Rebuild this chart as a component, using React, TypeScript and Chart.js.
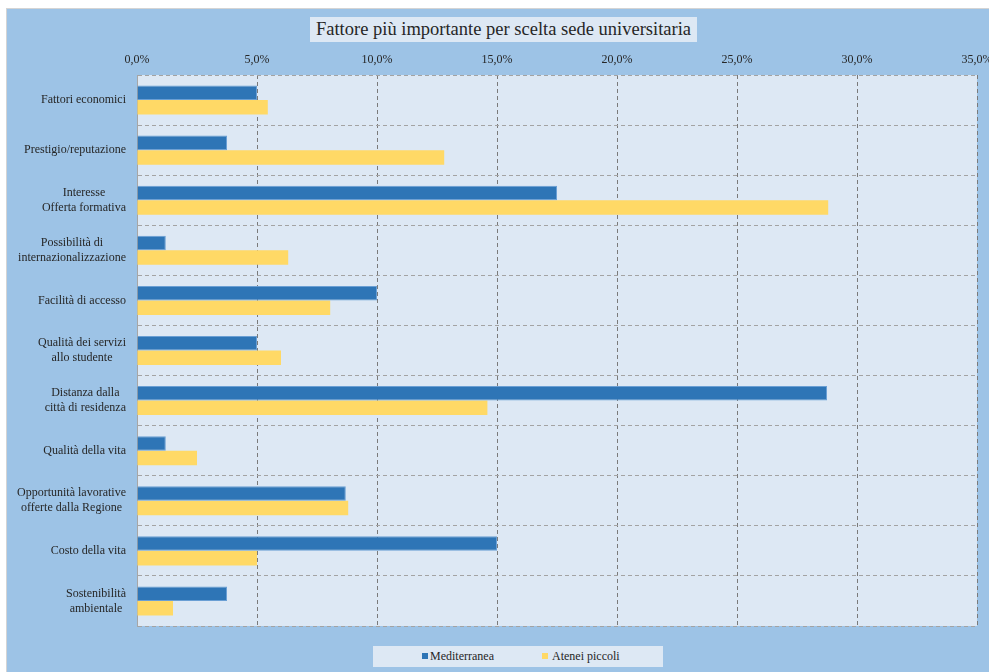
import React, { useEffect, useRef } from "react";
import { Chart, registerables } from "chart.js";

Chart.register(...registerables);

const categories: string[][] = [
  ["Fattori economici"],
  ["Prestigio/reputazione"],
  ["Interesse", "Offerta formativa"],
  ["Possibilità di", "internazionalizzazione"],
  ["Facilità di accesso"],
  ["Qualità dei servizi", "allo studente"],
  ["Distanza dalla", "città di residenza"],
  ["Qualità della vita"],
  ["Opportunità lavorative", "offerte dalla Regione"],
  ["Costo della vita"],
  ["Sostenibilità", "ambientale"],
];

const seriesNames = ["Mediterranea", "Atenei piccoli"];
const mediterranea = [5.0, 3.75, 17.5, 1.2, 10.0, 5.0, 28.75, 1.2, 8.7, 15.0, 3.75];
const ateneiPiccoli = [5.45, 12.8, 28.8, 6.3, 8.05, 6.0, 14.6, 2.5, 8.8, 5.0, 1.5];
const seriesColors = ["#2e75b6", "#ffd966"];

const xMin = 0;
const xMax = 35;
const xStep = 5;

const chartTitle = "Fattore più importante per scelta sede universitaria";

const FONT = '"Liberation Serif", "Times New Roman", serif';

const plotBg = {
  id: "plotBg",
  beforeDraw(chart: any) {
    const { ctx, chartArea } = chart;
    ctx.save();
    ctx.fillStyle = "#dde8f4";
    ctx.fillRect(chartArea.left, chartArea.top, chartArea.right - chartArea.left, chartArea.bottom - chartArea.top);
    ctx.restore();
  },
};

const centeredLabels = {
  id: "centeredLabels",
  afterDraw(chart: any) {
    const { ctx, chartArea } = chart;
    const yScale = chart.scales.y;
    const labels = chart.data.labels as string[][];
    ctx.save();
    ctx.font = `12px ${FONT}`;
    ctx.fillStyle = "#262626";
    ctx.textAlign = "center";
    ctx.textBaseline = "middle";
    const lh = 15;
    labels.forEach((lines, i) => {
      const arr = Array.isArray(lines) ? lines : [lines];
      const maxW = Math.max(...arr.map((l) => ctx.measureText(l).width));
      const cx = chartArea.left - 11 - maxW / 2;
      const cy = yScale.getPixelForValue(i);
      const y0 = cy - ((arr.length - 1) * lh) / 2;
      arr.forEach((l, j) => ctx.fillText(l, cx, y0 + j * lh));
    });
    ctx.restore();
  },
};

function BarChart() {
  const ref = useRef<HTMLCanvasElement>(null);
  useEffect(() => {
    if (!ref.current) return;
    const chart = new Chart(ref.current, {
      type: "bar",
      data: {
        labels: categories as any,
        datasets: [
          {
            label: seriesNames[0],
            data: mediterranea,
            backgroundColor: seriesColors[0],
            borderColor: "#6a9fd4",
            borderWidth: 1,
            barPercentage: 1,
            categoryPercentage: 0.58,
          },
          {
            label: seriesNames[1],
            data: ateneiPiccoli,
            backgroundColor: seriesColors[1],
            borderWidth: 0,
            barPercentage: 1,
            categoryPercentage: 0.58,
          },
        ],
      },
      options: {
        indexAxis: "y",
        animation: false,
        responsive: false,
        devicePixelRatio: 1,
        layout: { padding: { left: 6, right: 33, top: 45, bottom: 46 } },
        plugins: {
          legend: { display: false },
          title: { display: false },
          tooltip: { enabled: false },
        },
        scales: {
          x: {
            position: "top",
            min: xMin,
            max: xMax,
            ticks: {
              stepSize: xStep,
              padding: 8,
              color: "#262626",
              font: { family: FONT, size: 12 },
              callback: (v: any) => Number(v).toFixed(1).replace(".", ",") + "%",
            },
            grid: { color: "#7a7a7a", lineWidth: 1, drawTicks: false },
            border: { display: false, dash: [4, 3] },
            afterFit: (s: any) => {
              s.height = 30;
            },
          },
          y: {
            ticks: { display: false },
            grid: { color: "#a3a3a3", lineWidth: 1, drawTicks: false, offset: true },
            border: { display: true, color: "#a6a6a6", width: 1, dash: [4, 3] },
            afterFit: (s: any) => {
              s.width = 131;
            },
          },
        },
      },
      plugins: [plotBg, centeredLabels],
    });
    return () => chart.destroy();
  }, []);
  return (
    <canvas
      ref={ref}
      width={1010}
      height={672}
      style={{ position: "absolute", left: 0, top: 0, width: 1010, height: 672 }}
    />
  );
}

export default function App() {
  return (
    <div
      style={{
        position: "fixed",
        left: 0,
        top: 0,
        width: 989,
        height: 672,
        overflow: "hidden",
        background: "#ffffff",
      }}
    >
      <div
        style={{
          position: "absolute",
          left: 6,
          top: 8,
          width: 1000,
          height: 680,
          background: "#9dc3e6",
          borderLeft: "1px solid #d4d4d4",
          borderTop: "1px solid #d4d4d4",
        }}
      />
      <BarChart />
      <div
        style={{
          position: "absolute",
          left: 310,
          top: 17,
          width: 387,
          height: 25,
          background: "#dde8f4",
          fontFamily: FONT,
          fontSize: 18.5,
          lineHeight: "25px",
          textAlign: "center",
          color: "#262626",
          whiteSpace: "nowrap",
        }}
      >
        {chartTitle}
      </div>
      <div
        style={{
          position: "absolute",
          left: 373,
          top: 646,
          width: 290,
          height: 21,
          background: "#dde8f4",
          fontFamily: FONT,
          fontSize: 12,
          lineHeight: "21px",
          color: "#262626",
        }}
      >
        <span style={{ position: "absolute", left: 49, top: 7, width: 6, height: 6, background: seriesColors[0] }} />
        <span style={{ position: "absolute", left: 57, top: 0, whiteSpace: "nowrap" }}>{seriesNames[0]}</span>
        <span style={{ position: "absolute", left: 169, top: 7, width: 6, height: 6, background: seriesColors[1] }} />
        <span style={{ position: "absolute", left: 179, top: 0, whiteSpace: "nowrap" }}>{seriesNames[1]}</span>
      </div>
    </div>
  );
}
